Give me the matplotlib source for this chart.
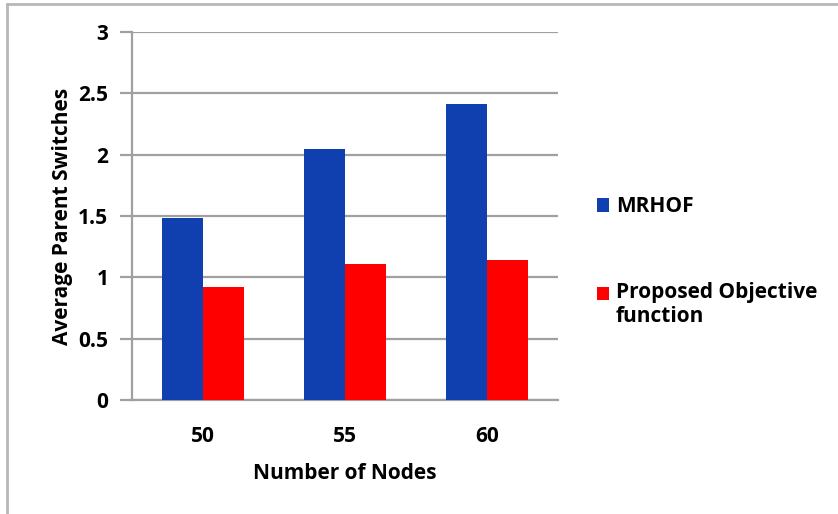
import matplotlib.pyplot as plt
import numpy as np

# average parent switches per network size
nodes = ["50", "55", "60"]
mrhof = [1.48, 2.05, 2.41]
proposed = [0.92, 1.11, 1.14]
series_names = ["MRHOF", "Proposed Objective\nfunction"]
y_ticks = [0, 0.5, 1, 1.5, 2, 2.5, 3]

plt.rcParams["font.family"] = ["Open Sans", "DejaVu Sans"]
plt.rcParams["font.weight"] = "bold"
fs = 15

fig = plt.figure(figsize=(8.38, 5.14), dpi=100)
ax = fig.add_axes([0.1575, 0.2218, 0.5084, 0.7159])

x = np.arange(len(nodes))
w = 0.29
b1 = ax.bar(x - w / 2, mrhof, w, color="#1040b0", zorder=3)
b2 = ax.bar(x + w / 2, proposed, w, color="#ff0000", zorder=3)

ax.set_xlim(-0.5, len(nodes) - 0.5)
ax.set_ylim(0, 3)
ax.set_yticks(y_ticks)
ax.set_yticklabels([f"{t:g}" for t in y_ticks])
ax.set_xticks(x)
ax.set_xticklabels(nodes)
ax.yaxis.grid(True, color="#a0a0a0", linewidth=1.6, zorder=0)
ax.set_axisbelow(True)

for s in ["top", "right"]:
    ax.spines[s].set_visible(False)
for s in ["left", "bottom"]:
    ax.spines[s].set_color("#a0a0a0")
    ax.spines[s].set_linewidth(1.6)

ax.tick_params(axis="y", length=9, width=1.6, color="#a0a0a0", pad=8,
               labelsize=fs)
ax.tick_params(axis="x", length=0, pad=19, labelsize=fs)

ax.set_ylabel("Average Parent Switches", fontsize=fs, fontweight="bold",
              labelpad=4)
ax.set_xlabel("Number of Nodes", fontsize=fs, fontweight="bold", labelpad=11)

leg = fig.legend([b1, b2], series_names, loc="center left",
                 bbox_to_anchor=(0.69, 0.491), frameon=False, fontsize=fs,
                 handlelength=0.6, handleheight=0.6, handletextpad=0.3,
                 labelspacing=3.1)
# put the second key next to the first line of its two-line label
h = leg.legend_handles[1]
h.set_y(h.get_y() + 8.5)

# chart frame, only the top and left edges show
fig.add_artist(plt.Line2D([0.0085, 0.0085], [0, 0.992], color="#b8b8b8",
                          linewidth=2, transform=fig.transFigure))
fig.add_artist(plt.Line2D([0.0085, 1], [0.992, 0.992], color="#b8b8b8",
                          linewidth=2, transform=fig.transFigure))

fig.savefig("out.png", dpi=100)
